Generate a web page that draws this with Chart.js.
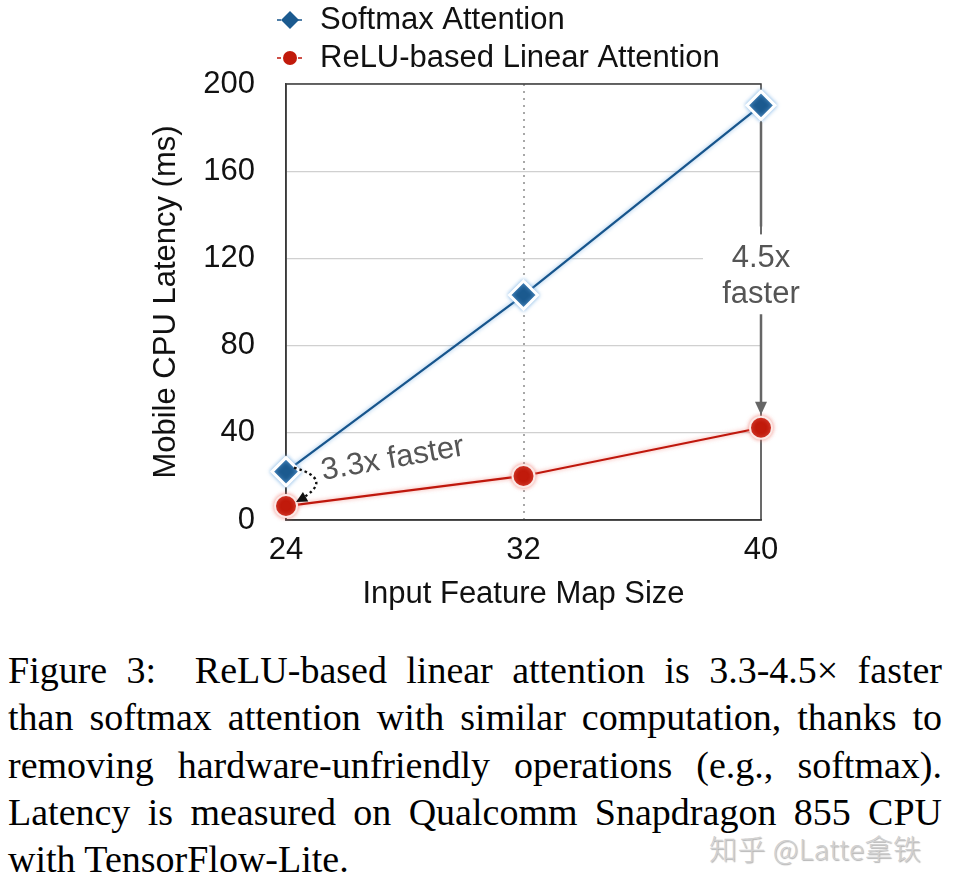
<!DOCTYPE html>
<html>
<head>
<meta charset="utf-8">
<script src="https://cdn.jsdelivr.net/npm/chart.js@4.4.0/dist/chart.umd.min.js"></script>
<style>
  body { margin: 0; background: #fff; width: 953px; height: 887px; overflow: hidden; position: relative; }
  #wrap { position: absolute; left: 0; top: 0; width: 953px; height: 625px; }
  #caption { position: absolute; left: 8px; top: 647px; width: 934px; color: #000;
    font-family: "Liberation Serif", "Times New Roman", serif; font-size: 38px; line-height: 47.3px; }
  #caption .ln { text-align: justify; text-align-last: justify; }
  #caption .ln.last { text-align: left; text-align-last: left; }
  #mark { position: absolute; left: 709px; top: 828px; font-family: "Noto Sans CJK SC", sans-serif;
    font-size: 28px; font-weight: 300; letter-spacing: 0.5px; color: #d0d0d0;
    text-shadow: 1px 1px 1px rgba(0,0,0,0.3); white-space: nowrap; }
</style>
</head>
<body>
<div id="wrap"><canvas id="chart" width="953" height="625"></canvas></div>
<div id="caption">
  <div class="ln">Figure 3: &nbsp;ReLU-based linear attention is 3.3-4.5× faster</div>
  <div class="ln">than softmax attention with similar computation, thanks to</div>
  <div class="ln">removing hardware-unfriendly operations (e.g., softmax).</div>
  <div class="ln">Latency is measured on Qualcomm Snapdragon 855 CPU</div>
  <div class="ln last">with TensorFlow-Lite.</div>
</div>
<div id="mark">知乎 @Latte拿铁</div>
<script>
// data
const mapSizes = [24, 32, 40];
const softmaxLatency = [22.2, 103.2, 190.2];
const reluLatency = [6.4, 20.2, 42.3];
const latencyTicks = [0, 40, 80, 120, 160, 200];
const seriesNames = ['Softmax Attention', 'ReLU-based Linear Attention'];
const speedupLow = '3.3x faster';
const speedupHigh = ['4.5x', 'faster'];

const SANS = '"Liberation Sans", Arial, Helvetica, sans-serif';
Chart.defaults.font.family = SANS;
Chart.defaults.color = '#111';

// plot frame on all four sides
const framePlugin = {
  id: 'frame',
  beforeDatasetsDraw(chart) {
    const { ctx, chartArea: a } = chart;
    ctx.save();
    ctx.strokeStyle = '#3a3a3a';
    ctx.lineWidth = 1.5;
    ctx.strokeRect(a.left, a.top, a.right - a.left, a.bottom - a.top);
    ctx.restore();
  }
};

// soft coloured glow around each series
const glowPlugin = {
  id: 'glow',
  beforeDatasetDraw(chart, args) {
    const ds = chart.data.datasets[args.index];
    chart.ctx.save();
    chart.ctx.shadowColor = ds.glow;
    chart.ctx.shadowBlur = 4;
  },
  afterDatasetDraw(chart) {
    chart.ctx.restore();
  }
};

// two-row legend top left
const legendPlugin = {
  id: 'stackedLegend',
  afterDraw(chart) {
    const ctx = chart.ctx;
    chart.data.datasets.forEach((ds, i) => {
      const x = 290, y = 20 + i * 38;
      ctx.save();
      ctx.strokeStyle = ds.borderColor;
      ctx.lineWidth = 1.5;
      ctx.setLineDash([4, 17]);
      ctx.beginPath();
      ctx.moveTo(x - 13, y);
      ctx.lineTo(x + 14, y);
      ctx.stroke();
      ctx.setLineDash([]);
      ctx.fillStyle = ds.pointBackgroundColor;
      ctx.beginPath();
      if (ds.pointStyle === 'rectRot') {
        ctx.moveTo(x, y - 9); ctx.lineTo(x + 9, y); ctx.lineTo(x, y + 9); ctx.lineTo(x - 9, y);
        ctx.closePath();
      } else {
        ctx.arc(x, y, 7, 0, Math.PI * 2);
      }
      ctx.fill();
      ctx.fillStyle = '#111';
      ctx.font = '31px ' + SANS;
      ctx.textBaseline = 'middle';
      ctx.fillText(ds.label, 320, y);
      ctx.restore();
    });
  }
};

function arrowHead(ctx, x, y, ang, len, half) {
  ctx.beginPath();
  ctx.moveTo(x, y);
  ctx.lineTo(x - len * Math.cos(ang) + half * Math.sin(ang), y - len * Math.sin(ang) - half * Math.cos(ang));
  ctx.lineTo(x - len * Math.cos(ang) - half * Math.sin(ang), y - len * Math.sin(ang) + half * Math.cos(ang));
  ctx.closePath();
  ctx.fill();
}

// speed-up annotations
const notePlugin = {
  id: 'notes',
  afterDatasetsDraw(chart) {
    const { ctx, scales: { x, y } } = chart;
    ctx.save();
    // 4.5x at the last size
    const xr = x.getPixelForValue(mapSizes[2]);
    const topY = y.getPixelForValue(softmaxLatency[2]) + 17;
    const botY = y.getPixelForValue(reluLatency[2]) - 13;
    const t1 = y.getPixelForValue(120), t2 = y.getPixelForValue(103.5);
    ctx.fillStyle = '#fff';
    ctx.fillRect(xr - 58, t1 - 24, 116, t2 - t1 + 48);
    ctx.strokeStyle = '#666';
    ctx.lineWidth = 2.5;
    ctx.beginPath();
    ctx.moveTo(xr, topY); ctx.lineTo(xr, t1 - 32);
    ctx.moveTo(xr, t2 + 20); ctx.lineTo(xr, botY - 8);
    ctx.stroke();
    ctx.fillStyle = '#666';
    arrowHead(ctx, xr, botY, Math.PI / 2, 13, 6);
    ctx.fillStyle = '#555';
    ctx.font = '31px ' + SANS;
    ctx.textAlign = 'center';
    ctx.textBaseline = 'middle';
    ctx.fillText(speedupHigh[0], xr, t1);
    ctx.fillText(speedupHigh[1], xr, t2);

    // 3.3x at the first size
    const xl = x.getPixelForValue(mapSizes[0]);
    const ys = y.getPixelForValue(softmaxLatency[0]);
    const yr = y.getPixelForValue(reluLatency[0]);
    ctx.save();
    ctx.translate(xl + 37, yr - 26);
    ctx.rotate(-10 * Math.PI / 180);
    ctx.textAlign = 'left';
    ctx.textBaseline = 'alphabetic';
    ctx.fillStyle = '#555';
    ctx.fillText(speedupLow, 0, 0);
    ctx.restore();
    ctx.strokeStyle = '#111';
    ctx.lineWidth = 2.4;
    ctx.setLineDash([2.5, 3]);
    const sx = xl + 8, sy = ys - 4, cx = xl + 50, cy = ys + 8, ex = xl + 13, ey = yr - 6;
    ctx.beginPath();
    ctx.moveTo(sx, sy);
    ctx.quadraticCurveTo(cx, cy, ex, ey);
    ctx.stroke();
    ctx.setLineDash([]);
    ctx.fillStyle = '#111';
    arrowHead(ctx, ex - 3, ey + 2, Math.atan2(ey - cy, ex - cx), 11, 5.5);
    ctx.restore();
  }
};

new Chart(document.getElementById('chart'), {
  type: 'line',
  data: {
    datasets: [
      {
        label: seriesNames[0],
        data: mapSizes.map((s, i) => ({ x: s, y: softmaxLatency[i] })),
        borderColor: '#17558c',
        borderWidth: 2.2,
        pointStyle: 'rectRot',
        pointRadius: 14,
        pointBackgroundColor: '#1b5a8f',
        pointBorderColor: '#ffffff',
        pointBorderWidth: 3,
        glow: 'rgba(110,170,225,0.8)',
        clip: false
      },
      {
        label: seriesNames[1],
        data: mapSizes.map((s, i) => ({ x: s, y: reluLatency[i] })),
        borderColor: '#bf170c',
        borderWidth: 2.2,
        pointStyle: 'circle',
        pointRadius: 11,
        pointBackgroundColor: '#c11a0b',
        pointBorderColor: '#fbe8e6',
        pointBorderWidth: 2,
        glow: 'rgba(240,120,110,0.7)',
        clip: false
      }
    ]
  },
  options: {
    responsive: false,
    animation: false,
    events: [],
    layout: { padding: { top: 84, right: 192, left: 0, bottom: 0 } },
    plugins: { legend: { display: false }, tooltip: { enabled: false } },
    scales: {
      x: {
        type: 'linear',
        min: mapSizes[0],
        max: mapSizes[mapSizes.length - 1],
        afterBuildTicks: s => { s.ticks = mapSizes.map(v => ({ value: v })); },
        afterFit: s => { s.height = 105; },
        grid: {
          drawTicks: false,
          lineWidth: 2,
          color: c => (c.tick && c.tick.value === mapSizes[1]) ? '#a8a8a8' : 'rgba(0,0,0,0)'
        },
        border: { color: '#3a3a3a', width: 1.5, dash: [2, 5] },
        ticks: { padding: 12, color: '#111', font: { size: 31 } },
        title: { display: true, text: 'Input Feature Map Size', color: '#111', font: { size: 31 }, padding: { top: 0, bottom: 12 } }
      },
      y: {
        min: latencyTicks[0],
        max: latencyTicks[latencyTicks.length - 1],
        afterBuildTicks: s => { s.ticks = latencyTicks.map(v => ({ value: v })); },
        afterFit: s => { s.width = 286; },
        grid: { drawTicks: false, color: '#d0d0d0', lineWidth: 1.3 },
        border: { color: '#3a3a3a', width: 1.5 },
        ticks: { padding: 31, color: '#111', font: { size: 31 } },
        title: { display: true, text: 'Mobile CPU Latency (ms)', color: '#111', font: { size: 31 }, padding: { top: 148, bottom: 0 } }
      }
    }
  },
  plugins: [framePlugin, glowPlugin, legendPlugin, notePlugin]
});
</script>
</body>
</html>
